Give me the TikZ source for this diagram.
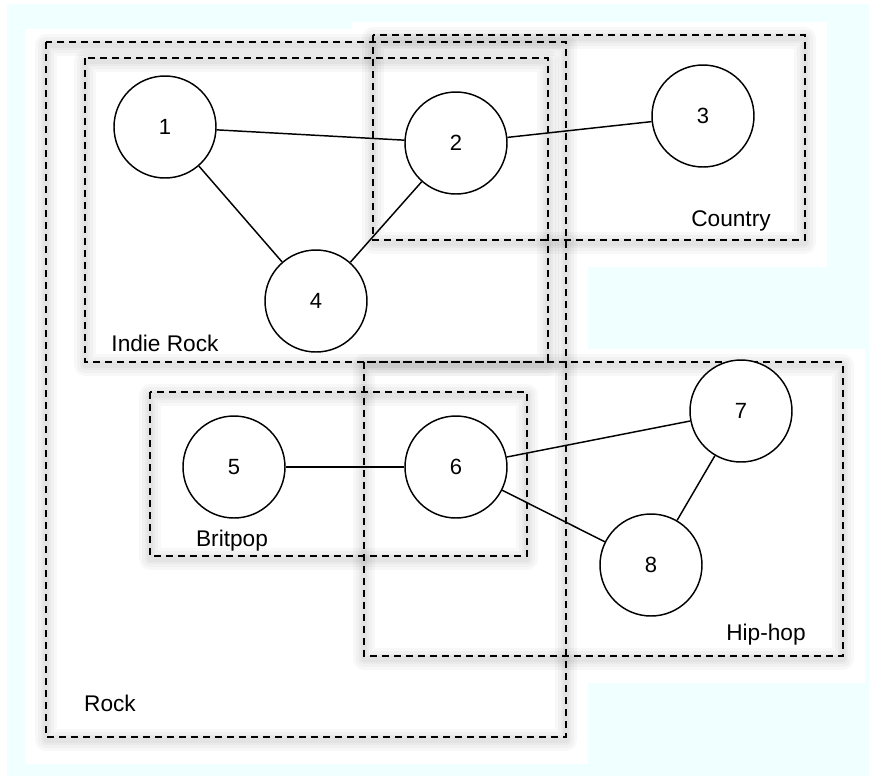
\documentclass[tikz,border=0pt]{standalone}
\usepackage{fontspec}
\setmainfont{Liberation Sans}
\definecolor{bgc}{RGB}{240,255,255}
\begin{document}
\begin{tikzpicture}[x=0.75pt,y=-0.75pt,
  gnode/.style={circle,draw,line width=1.1pt,fill=white,minimum size=76.5pt,inner sep=0pt,font=\fontsize{16.5}{18}\selectfont},
  edge/.style={line width=1.1pt},
  grp/.style={draw,dash pattern=on 5.5pt off 3.5pt,line width=1.2pt},
  lbl/.style={font=\fontsize{17}{20}\selectfont,inner sep=0pt},
  pad/.style={fill=white,draw=none},
  glow/.style={draw=black,opacity=0.028,line join=round}]
\useasboundingbox (0,0) rectangle (869,776);
\fill[bgc] (0,0) rectangle (869,776);
\fill[white] (0,0) rectangle (7,776);
\fill[white] (0,0) rectangle (869,4);
% white pads
\fill[pad] (25,29) rectangle (588,764);
\fill[pad] (352,22) rectangle (827,267);
\fill[pad] (343,349) rectangle (865,683);
% glow
\foreach \a/\b/\c/\d in {46/42/566/737, 85/58/548/362, 373/35/805/240, 150/392/527/556, 364/362/843/656}{
  \foreach \w in {16,12,8,4}{
    \draw[glow,line width=\w pt] (\a,\b+3) rectangle (\c,\d+3);
  }
}
% group boxes
\draw[grp] (46,42) rectangle (566,737);
\draw[grp] (85,58) rectangle (548,362);
\draw[grp] (373,35) rectangle (805,240);
\draw[grp] (150,392) rectangle (527,556);
\draw[grp] (364,362) rectangle (843,656);
% labels
\node[lbl] (lrock) at (110,703) {Rock};
\node[lbl] (lindie) at (165,343) {Indie Rock};
\node[lbl] (lcountry) at (731,221) {Country};
\node[lbl] (lbrit) at (232,541) {Britpop};
\node[lbl] (lhip) at (766,635) {Hip-hop};
% nodes
\node[gnode] (n1) at (165,127) {1};
\node[gnode] (n2) at (456,143) {2};
\node[gnode] (n3) at (703,116) {3};
\node[gnode] (n4) at (316,301) {4};
\node[gnode] (n5) at (234,467) {5};
\node[gnode] (n6) at (456,467) {6};
\node[gnode] (n7) at (741,411) {7};
\node[gnode] (n8) at (651,565) {8};
% edges
\draw[edge] (n1) -- (n2);
\draw[edge] (n2) -- (n3);
\draw[edge] (n1) -- (n4);
\draw[edge] (n2) -- (n4);
\draw[edge] (n5) -- (n6);
\draw[edge] (n6) -- (n7);
\draw[edge] (n6) -- (n8);
\draw[edge] (n7) -- (n8);
\end{tikzpicture}
\end{document}
